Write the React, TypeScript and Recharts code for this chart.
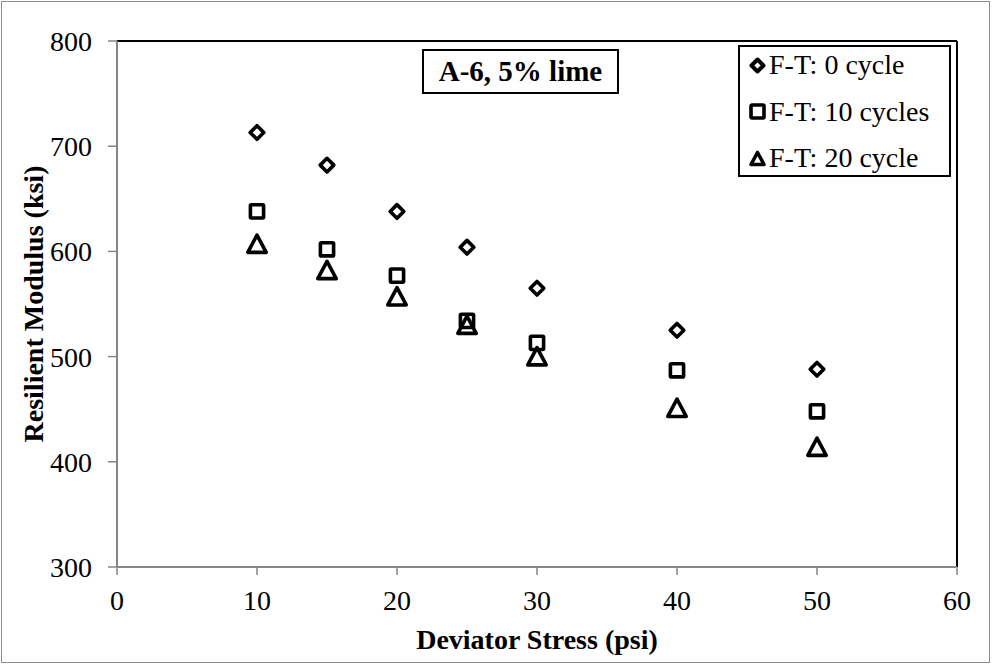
import React from 'react';
import { ScatterChart, Scatter, XAxis, YAxis, ReferenceLine } from 'recharts';

const stress = [10, 15, 20, 25, 30, 40, 50];
const mr0 = [713, 682, 638, 604, 565, 525, 488];
const mr10 = [638, 602, 577, 534, 513, 487, 448];
const mr20 = [607, 582, 557, 530, 500, 451, 414];
const xTicks = [0, 10, 20, 30, 40, 50, 60];
const yTicks = [300, 400, 500, 600, 700, 800];
const seriesNames = ['F-T: 0 cycle', 'F-T: 10 cycles', 'F-T: 20 cycle'];

const toData = (vals: number[]) => stress.map((s, i) => ({ x: s, y: vals[i] }));

const FONT = '"Liberation Serif", "Times New Roman", serif';

const Diamond = (props: any) => {
  const { cx, cy } = props;
  const r = 6.8;
  return <path d={`M${cx},${cy - r}L${cx + r},${cy}L${cx},${cy + r}L${cx - r},${cy}Z`} fill="#fff" stroke="#000" strokeWidth={3.6} strokeLinejoin="round" />;
};
const Square = (props: any) => {
  const { cx, cy } = props;
  const h = 6.6;
  return <rect x={cx - h} y={cy - h} width={2 * h} height={2 * h} fill="#fff" stroke="#000" strokeWidth={3.6} rx={1} />;
};
const Triangle = (props: any) => {
  const { cx, cy } = props;
  return <path d={`M${cx},${cy - 9}L${cx + 9.2},${cy + 8.3}L${cx - 9.2},${cy + 8.3}Z`} fill="none" stroke="#000" strokeWidth={3.6} strokeLinejoin="round" />;
};

const legendIcons = [
  <path d="M8.5,2.5L14.5,8.5L8.5,14.5L2.5,8.5Z" fill="#fff" stroke="#000" strokeWidth={4} strokeLinejoin="round" />,
  <rect x={2} y={2} width={13} height={13} fill="#fff" stroke="#000" strokeWidth={3.6} rx={1} />,
  <path d="M8.5,2.5L15,14.5L2,14.5Z" fill="none" stroke="#000" strokeWidth={3.6} strokeLinejoin="round" />,
];

const rowCenters = [18, 64.5, 111];

export default function App() {
  return (
    <div style={{ position: 'absolute', left: 0, top: 0, width: 992, height: 665, background: '#fff' }}>
      <ScatterChart width={992} height={665} margin={{ top: 41, right: 35, bottom: 68, left: 57 }}>
        <XAxis
          type="number"
          dataKey="x"
          domain={[0, 60]}
          ticks={xTicks}
          height={30}
          axisLine={{ stroke: '#868686', strokeWidth: 2 }}
          tickLine={{ stroke: '#868686', strokeWidth: 1.5 }}
          tickSize={8}
          tickMargin={15}
          tick={{ fill: '#000', fontSize: 28, fontFamily: FONT }}
          interval={0}
        />
        <YAxis
          type="number"
          dataKey="y"
          domain={[300, 800]}
          ticks={yTicks}
          width={60}
          axisLine={{ stroke: '#868686', strokeWidth: 2 }}
          tickLine={{ stroke: '#868686', strokeWidth: 1.5 }}
          tickSize={9}
          tickMargin={16}
          tick={{ fill: '#000', fontSize: 28, fontFamily: FONT }}
          interval={0}
        />
        <ReferenceLine y={800} stroke="#000" strokeWidth={2} ifOverflow="visible" />
        <ReferenceLine x={60} stroke="#000" strokeWidth={2} ifOverflow="visible" />
        <Scatter name={seriesNames[0]} data={toData(mr0)} shape={<Diamond />} isAnimationActive={false} />
        <Scatter name={seriesNames[1]} data={toData(mr10)} shape={<Square />} isAnimationActive={false} />
        <Scatter name={seriesNames[2]} data={toData(mr20)} shape={<Triangle />} isAnimationActive={false} />
      </ScatterChart>
      <div
        style={{
          position: 'absolute',
          left: 738,
          top: 45,
          width: 213,
          height: 132,
          boxSizing: 'border-box',
          border: '2px solid #000',
          background: '#fff',
          fontFamily: FONT,
          fontSize: 28,
          color: '#000',
        }}
      >
        {seriesNames.map((n, i) => (
          <div
            key={n}
            style={{
              position: 'absolute',
              left: 9,
              top: rowCenters[i] - 20,
              height: 40,
              display: 'flex',
              alignItems: 'center',
              whiteSpace: 'nowrap',
            }}
          >
            <svg width={17} height={17} style={{ marginRight: 3, flexShrink: 0 }}>{legendIcons[i]}</svg>
            <span>{n}</span>
          </div>
        ))}
      </div>
      <div
        style={{
          position: 'absolute',
          left: 422,
          top: 49,
          width: 197,
          height: 45,
          boxSizing: 'border-box',
          border: '2px solid #000',
          background: '#fff',
          fontFamily: FONT,
          fontWeight: 'bold',
          fontSize: 29,
          lineHeight: '41px',
          textAlign: 'center',
          whiteSpace: 'nowrap',
          color: '#000',
        }}
      >
        A-6, 5% lime
      </div>
      <div
        style={{
          position: 'absolute',
          left: 0,
          top: 624,
          width: 1074,
          textAlign: 'center',
          fontFamily: FONT,
          fontWeight: 'bold',
          fontSize: 28,
          color: '#000',
          pointerEvents: 'none',
        }}
      >
        Deviator Stress (psi)
      </div>
      <div
        style={{
          position: 'absolute',
          left: 34,
          top: 304,
          transform: 'translate(-50%, -50%) rotate(-90deg)',
          whiteSpace: 'nowrap',
          fontFamily: FONT,
          fontWeight: 'bold',
          fontSize: 28,
          color: '#000',
        }}
      >
        Resilient Modulus (ksi)
      </div>
      <div
        style={{
          position: 'absolute',
          left: 1,
          top: 1,
          width: 989,
          height: 662,
          boxSizing: 'border-box',
          border: '1.5px solid #8c8c8c',
          pointerEvents: 'none',
        }}
      />
    </div>
  );
}
